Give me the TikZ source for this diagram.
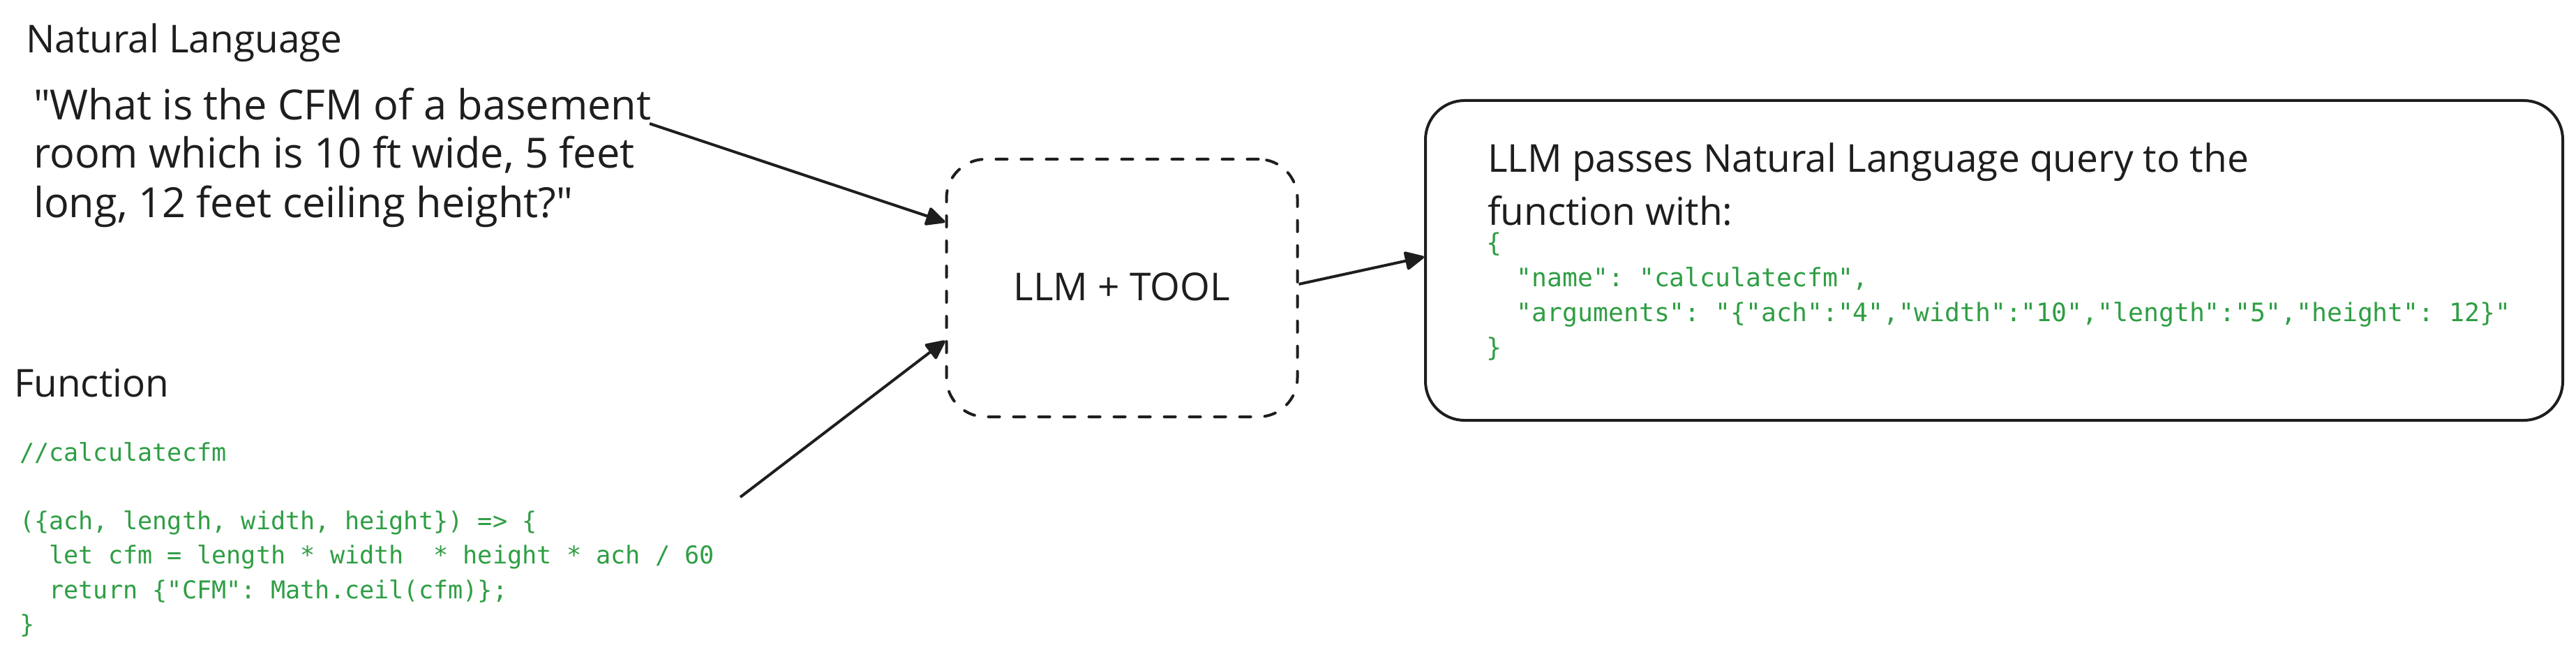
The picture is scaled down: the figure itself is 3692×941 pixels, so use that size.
\documentclass[tikz,border=0pt]{standalone}
\usepackage{fontspec}
\setmainfont{Open Sans}
\newfontfamily\codefont{DejaVu Sans Mono}
\usetikzlibrary{arrows.meta}
\definecolor{ink}{HTML}{1E1E1E}
\definecolor{codegreen}{HTML}{2F9E44}
\begin{document}
\begin{tikzpicture}[x=1pt,y=-1pt,
  lbl/.style={inner sep=0pt, outer sep=0pt, anchor=base west, text=ink, font=\fontsize{55}{66}\selectfont},
  hand/.style={lbl, font=\fontsize{59.5}{70}\selectfont},
  codeL/.style={inner sep=0pt, outer sep=0pt, anchor=base west, text=codegreen, font=\codefont\fontsize{35.2}{49}\selectfont\frenchspacing},
  codeR/.style={inner sep=0pt, outer sep=0pt, anchor=base west, text=codegreen, font=\codefont\fontsize{36.4}{50}\selectfont\frenchspacing},
  boxline/.style={draw=ink, line width=4pt, rounded corners=56pt, inner sep=0pt},
  dashbox/.style={boxline, dash pattern=on 16pt off 20pt, line cap=round},
  arrow/.style={draw=ink, line width=4pt, -{Triangle[length=30pt,width=28pt,round]}}
]
\fill[white] (0,0) rectangle (3692,941);
\useasboundingbox (0,0) rectangle (3692,941);

% boxes
\node[dashbox, minimum width=503pt, minimum height=369pt] (llm) at (1608,412.5) {};
\node[boxline, minimum width=1630pt, minimum height=458pt] (out) at (2858,373) {};

% headings and texts
\node[lbl] (nlhead) at (37,76) {Natural Language};
\node[hand] (q1) at (48,172) {\textquotedbl What is the CFM of a basement};
\node[hand] (q2) at (48,241) {room which is 10 ft wide, 5 feet};
\node[hand] (q3) at (48,312) {long, 12 feet ceiling height?\textquotedbl};
\node[lbl] (fnhead) at (20,568) {Function};
\node[lbl, anchor=base] (llmtxt) at (1608,430) {LLM + TOOL};
\node[lbl] (o1) at (2132,247) {LLM passes Natural Language query to the};
\node[lbl] (o2) at (2132,323) {function with:};

% left code
\node[codeL] (c1) at (28,660) {//calculatecfm};
\node[codeL] (c2) at (28,758) {(\{ach, length, width, height\}) => \{};
\node[codeL] (c3) at (28,807) {\ \ let cfm = length * width\ \ * height * ach / 60};
\node[codeL] (c4) at (28,857) {\ \ return \{"CFM": Math.ceil(cfm)\};};
\node[codeL] (c5) at (28,906) {\}};

% right code
\node[codeR] (r1) at (2130,360) {\{};
\node[codeR] (r2) at (2130,410) {\ \ "name": "calculatecfm",};
\node[codeR] (r3) at (2130,460) {\ \ "arguments": "\{"ach":"4","width":"10","length":"5","height": 12\}"};
\node[codeR] (r4) at (2130,510) {\}};

% connectors
\coordinate (s1) at (931,177);
\coordinate (s2) at (1061,712);
\draw[arrow] (s1) -- ([yshift=94.5pt]llm.west);
\draw[arrow] (s2) -- ([yshift=-75.5pt]llm.west);
\draw[arrow] ([yshift=5.5pt]llm.east) -- ([yshift=5pt]out.west);
\end{tikzpicture}
\end{document}
